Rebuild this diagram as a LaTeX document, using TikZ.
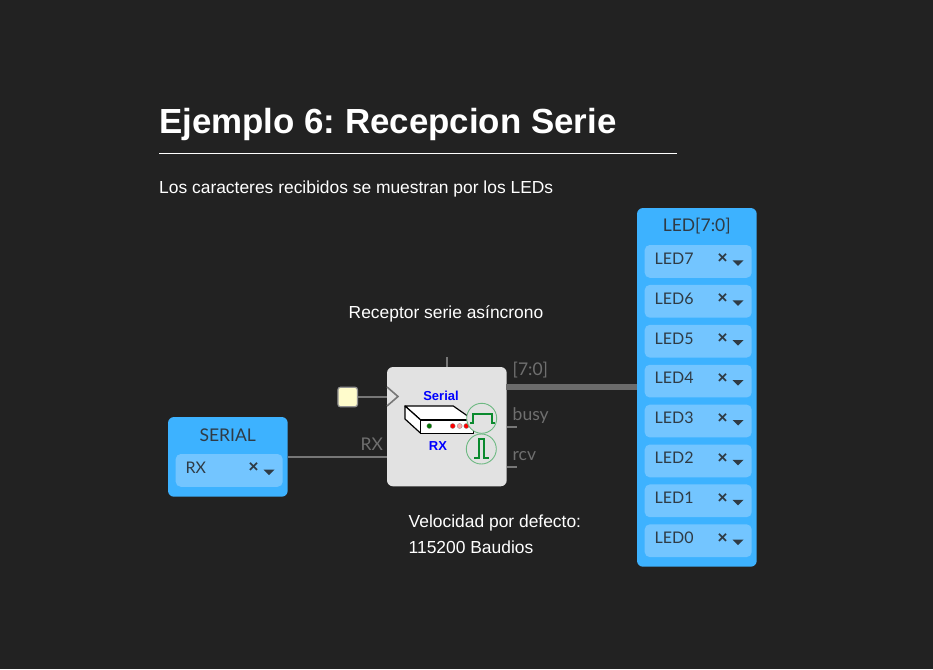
\documentclass[tikz,border=0pt]{standalone}
\usepackage{fontspec}
\setmainfont{Liberation Sans}
\newfontfamily\blockfont{Lato}
\definecolor{fondo}{HTML}{222222}
\definecolor{azul}{HTML}{3DB2FF}
\definecolor{azulclaro}{HTML}{73C5FF}
\definecolor{tinta}{HTML}{2F3B45}
\definecolor{cable}{HTML}{777777}
\definecolor{etiqueta}{HTML}{6F6F6F}
\definecolor{verde}{HTML}{0B8A2E}
\definecolor{gris}{HTML}{E2E2E2}
\tikzset{
  blocktitle/.style={font=\blockfont\fontsize{17.5}{20}\selectfont, text=tinta, inner sep=0pt},
  pinblock/.style={fill=azul, rounded corners=6pt, minimum width=119.7pt, inner sep=0pt},
  pinitem/.style={fill=azulclaro, rounded corners=5pt, minimum width=107pt, minimum height=32.7pt, inner sep=0pt},
  pinname/.style={font=\blockfont\fontsize{16}{18}\selectfont, text=tinta, inner sep=0pt, anchor=base west},
  pinclose/.style={font=\bfseries\fontsize{17}{17}\selectfont, text=tinta, inner sep=0pt},
  wirelabel/.style={font=\blockfont\fontsize{17.5}{20}\selectfont, text=etiqueta, inner sep=0pt, anchor=base west},
  whitetext/.style={text=white, inner sep=0pt, anchor=base west, font=\fontsize{17.42}{20}\selectfont},
  iconlabel/.style={text=blue, inner sep=0pt, font=\bfseries\fontsize{13}{15}\selectfont},
  wire/.style={draw=cable, line width=1.8pt},
  bus/.style={draw=cable!90!black, line width=5.5pt},
  pulse/.style={draw=verde, line width=2pt},
  ring/.style={draw=verde!60, fill=gris, line width=0.9pt, circle, minimum size=30pt, inner sep=0pt}
}
\begin{document}
\frenchspacing
\begin{tikzpicture}[x=1pt, y=-1pt]
  \fill[fondo] (0,0) rectangle (933,669); % Fondo
  \useasboundingbox (0,0) rectangle (933,669);

  % Textos
  \node[whitetext, font=\bfseries\fontsize{34.86}{40}\selectfont] (titulo) at (159,133) {Ejemplo 6: Recepcion Serie};
  \coordinate (rayaini) at (159,153.5);
  \coordinate (rayafin) at (677,153.5);
  \draw[white, line width=1pt] (rayaini) -- (rayafin);
  \node[whitetext] (intro) at (159,193) {Los caracteres recibidos se muestran por los LEDs};
  \node[whitetext] (receptor) at (348.5,318) {Receptor serie asíncrono};
  \node[whitetext] (velocidad) at (408.5,527) {Velocidad por defecto:};
  \node[whitetext] (baudios) at (408.5,553) {115200 Baudios};

  % Bloque de entrada
  \node[pinblock, minimum height=79.7pt] (serial) at (227.85,456.85) {};
  \node[blocktitle] (serialtit) at (227.7,435) {SERIAL};
  \node[pinitem] (rxitem) at (229.2,470.4) {};
  \node[pinname] (rxname) at (185.5,473) {RX};
  \node[pinclose] (rxclose) at (253.5,468) {×};
  \fill[tinta] (263.5,469.5) -- (274.5,469.5) -- (269,475) -- cycle; % Flecha del desplegable

  % Bloque de salida
  \node[pinblock, minimum height=358.7pt] (leds) at (696.85,387.35) {};
  \node[blocktitle] (ledstit) at (696.7,226.5) {LED[7:0]};
  \foreach \i/\nombre in {0/LED7,1/LED6,2/LED5,3/LED4,4/LED3,5/LED2,6/LED1,7/LED0} {
    \pgfmathsetmacro{\ypos}{261.4+\i*39.9}
    \node[pinitem] (item\i) at (698.2,\ypos) {};
    \node[pinname] (name\i) at (654.5,\ypos+2.8) {\nombre};
    \node[pinclose] (close\i) at (722.5,\ypos-2.6) {×};
    \fill[tinta] (732.5,\ypos-1) -- (743.5,\ypos-1) -- (738,\ypos+4.5) -- cycle;
  }

  % Modulo receptor
  \node[fill=gris, rounded corners=6pt, minimum width=119.7pt, minimum height=119.3pt, inner sep=0pt] (modulo) at (446.85,426.65) {};
  \node[iconlabel] (iconserial) at (441,395.5) {Serial};
  \node[iconlabel] (iconrx) at (438,446.5) {RX};

  % Dibujo del aparato
  \filldraw[fill=white, draw=black, line width=1.2pt, line join=round] (405,406) -- (453.3,406) -- (473.3,420) -- (420.7,420) -- cycle;
  \filldraw[fill=white, draw=black, line width=1.2pt, line join=round] (405,406) -- (420.7,420) -- (420.7,433.3) -- (405,419) -- cycle;
  \filldraw[fill=white, draw=black, line width=1.2pt, line join=round] (420.7,420) rectangle (473.3,433.3);
  \filldraw[fill=green!45!black, draw=black!50, line width=0.3pt] (429.3,426) circle (2.5); % Led verde
  \filldraw[fill=red, draw=black!50, line width=0.3pt] (452.7,426) circle (2.5);
  \filldraw[fill=red!35, draw=black!50, line width=0.3pt] (459.7,426) circle (2.5);
  \filldraw[fill=red, draw=black!50, line width=0.3pt] (466.3,426) circle (2.5);

  % Pulsos
  \node[ring] (anillouno) at (481.7,418.3) {};
  \node[ring] (anillodos) at (481.3,449) {};
  \draw[pulse] (470,422.7) -- (472.7,422.7) -- (472.7,413.5) -- (491.7,413.5) -- (491.7,422.7) -- (494.5,422.7);
  \draw[pulse] (474,457.7) -- (479,457.7) -- (479,438.5) -- (484,438.5) -- (484,457.7) -- (488.7,457.7);

  % Reloj y cables
  \node[draw=cable!80, fill=yellow!20, rounded corners=2.5pt, line width=1.2pt, minimum size=19.5pt, inner sep=0pt] (reloj) at (347.7,397) {};
  \coordinate (pclk) at (387,397);
  \draw[wire] (reloj) -- (pclk);
  \draw[cable, line width=1.6pt, line join=miter] (387,387) -- (398,396.5) -- (387,406);
  \coordinate (prx) at (387,457);
  \draw[wire] (serial.east |- prx) -- (prx);
  \node[wirelabel] (labrx) at (360.5,450) {RX};
  \coordinate (preset) at (447,357);
  \draw[wire] (preset) -- (modulo.north -| preset);
  \coordinate (pdata) at (506,387);
  \draw[bus] (pdata) -- (leds.west |- pdata);
  \node[wirelabel] (labdata) at (512.5,375.5) {[7:0]};
  \coordinate (pbusy) at (517,427);
  \draw[wire] (modulo.east |- pbusy) -- (pbusy);
  \node[wirelabel] (labbusy) at (512.5,420) {busy};
  \coordinate (prcv) at (517,467);
  \draw[wire] (modulo.east |- prcv) -- (prcv);
  \node[wirelabel] (labrcv) at (512.5,460) {rcv};
\end{tikzpicture}
\end{document}
